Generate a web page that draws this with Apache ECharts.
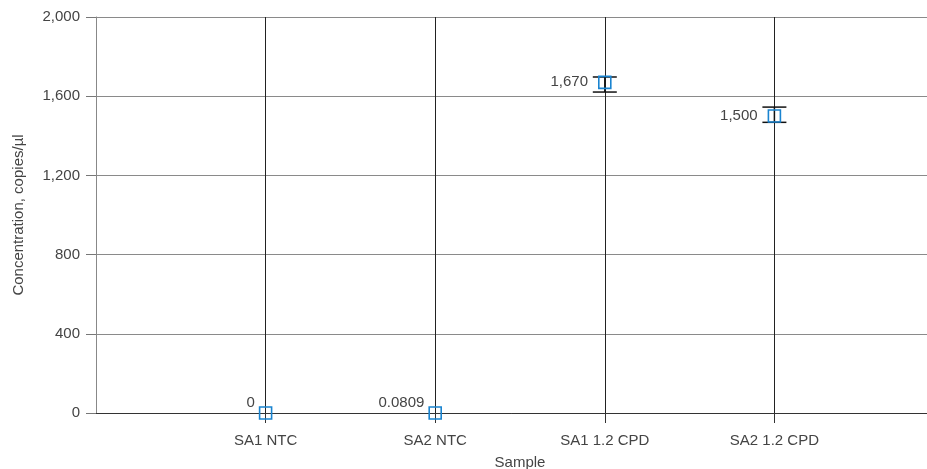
<!DOCTYPE html>
<html>
<head>
<meta charset="utf-8">
<script src="https://cdn.jsdelivr.net/npm/echarts@6/dist/echarts.min.js"></script>
<style>
  html, body { margin: 0; padding: 0; background: #fff; }
  #chart { width: 927px; height: 469px; }
</style>
</head>
<body>
<div id="chart"></div>
<script>
// sample names and measured concentrations (copies/µl)
const samples = ['SA1 NTC', 'SA2 NTC', 'SA1 1.2 CPD', 'SA2 1.2 CPD'];
const concentration = [0, 0.0809, 1670, 1500];
const labelText = ['0', '0.0809', '1,670', '1,500'];
const errLow = [0, 0, 1621, 1468];
const errHigh = [0, 0, 1697, 1545];
const yTicks = [0, 400, 800, 1200, 1600, 2000];

const font = 'Liberation Sans, Arial, Helvetica, sans-serif';
const textColor = '#444';

const chart = echarts.init(document.getElementById('chart'));

const pointData = concentration.map((v, i) => ({
  value: [i + 1, v],
  label: {
    formatter: labelText[i],
    offset: v < 100 ? [6, -10] : [0, 0]
  }
}));

const errData = samples.map((s, i) => [i + 1, errLow[i], errHigh[i]]);

chart.setOption({
  animation: false,
  grid: { left: 96, right: -17, top: 17, bottom: 56, containLabel: false, outerBoundsMode: 'none' },
  xAxis: {
    type: 'value',
    min: 0,
    max: 5,
    interval: 1,
    name: 'Sample',
    nameLocation: 'middle',
    nameGap: 42,
    nameTextStyle: { color: textColor, fontSize: 15, fontFamily: font },
    axisLine: { show: true, lineStyle: { color: '#333', width: 1 } },
    axisTick: { show: true, length: 10, customValues: [1, 2, 3, 4], lineStyle: { color: '#333' } },
    axisLabel: {
      customValues: [1, 2, 3, 4],
      margin: 20,
      color: textColor,
      fontSize: 15,
      fontFamily: font,
      formatter: v => samples[v - 1] || ''
    },
    splitLine: { show: true, lineStyle: { color: '#222', width: 1 } }
  },
  yAxis: {
    type: 'value',
    min: yTicks[0],
    max: yTicks[yTicks.length - 1],
    interval: 400,
    name: 'Concentration, copies/µl',
    nameLocation: 'middle',
    nameGap: 70,
    nameTextStyle: { color: textColor, fontSize: 15, fontFamily: font },
    axisLine: { show: true, lineStyle: { color: '#888', width: 1 } },
    axisTick: { show: true, length: 10, lineStyle: { color: '#777' } },
    axisLabel: {
      margin: 16,
      color: textColor,
      fontSize: 15,
      fontFamily: font,
      formatter: v => v.toLocaleString('en-US')
    },
    splitLine: { show: true, lineStyle: { color: '#8a8a8a', width: 1 } }
  },
  series: [
    {
      type: 'custom',
      z: 2,
      data: errData,
      renderItem: (params, api) => {
        const x = api.value(0);
        const lo = api.coord([x, api.value(1)]);
        const hi = api.coord([x, api.value(2)]);
        if (api.value(2) - api.value(1) <= 0) return null;
        const half = 12;
        const style = { stroke: '#111', lineWidth: 1.5 };
        return {
          type: 'group',
          children: [
            { type: 'line', shape: { x1: lo[0], y1: lo[1], x2: hi[0], y2: hi[1] }, style },
            { type: 'line', shape: { x1: lo[0] - half, y1: lo[1], x2: lo[0] + half, y2: lo[1] }, style },
            { type: 'line', shape: { x1: hi[0] - half, y1: hi[1], x2: hi[0] + half, y2: hi[1] }, style }
          ]
        };
      }
    },
    {
      type: 'scatter',
      z: 3,
      symbol: 'rect',
      symbolSize: 12,
      data: pointData,
      itemStyle: { color: 'rgba(0,0,0,0)', borderColor: '#1a84d0', borderWidth: 1.6, opacity: 1 },
      label: {
        show: true,
        position: 'left',
        distance: 10,
        color: textColor,
        fontSize: 15,
        fontFamily: font
      }
    }
  ]
});
</script>
</body>
</html>
